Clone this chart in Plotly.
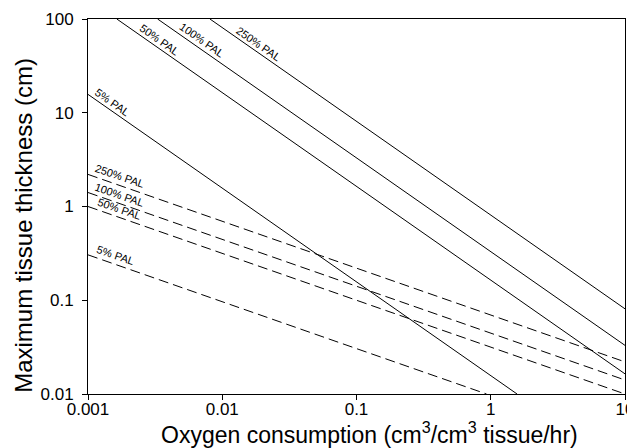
import math
import plotly.graph_objects as go

# ---- data (log-log straight lines, endpoints) ----
pal_labels = ["5% PAL", "50% PAL", "100% PAL", "250% PAL"]

# Solid lines (slope -1)
solid_x = [[0.001, 1.57], [0.00164, 10], [0.0033, 10], [0.0081, 10]]
solid_y = [[15.7, 0.01], [100, 0.0164], [100, 0.033], [100, 0.081]]

# Dashed lines (slope -1/2)
dashed_x = [[0.001, 0.93], [0.001, 10], [0.001, 10], [0.001, 10]]
dashed_y = [[0.305, 0.01], [1.0, 0.01], [1.41, 0.0141], [2.2, 0.022]]

# label anchor x positions along each line
solid_label_x = [0.00146, 0.00332, 0.0068, 0.0181]
dashed_label_x = [0.00151, 0.00164, 0.00164, 0.00164]

x_tickvals = [0.001, 0.01, 0.1, 1, 10]
x_ticktext = ["0.001", "0.01", "0.1", "1", "10"]
y_tickvals = [0.01, 0.1, 1, 10, 100]
y_ticktext = ["0.01", "0.1", "1", "10", "100"]

x_title = "Oxygen consumption (cm<sup>3</sup>/cm<sup>3</sup> tissue/hr)"
y_title = "Maximum tissue thickness (cm)"

FONT = "Arial, Liberation Sans, sans-serif"

fig = go.Figure()
for xs, ys in zip(solid_x, solid_y):
    fig.add_trace(go.Scatter(x=xs, y=ys, mode="lines",
                             line=dict(color="black", width=1), showlegend=False))
for xs, ys in zip(dashed_x, dashed_y):
    fig.add_trace(go.Scatter(x=xs, y=ys, mode="lines",
                             line=dict(color="black", width=1, dash="10px,5px"),
                             showlegend=False))


def interp_log(xs, ys, x):
    lx0, lx1 = math.log10(xs[0]), math.log10(xs[1])
    ly0, ly1 = math.log10(ys[0]), math.log10(ys[1])
    t = (math.log10(x) - lx0) / (lx1 - lx0)
    return ly0 + t * (ly1 - ly0)


annotations = []
for lab, xs, ys, lx in zip(pal_labels, solid_x, solid_y, solid_label_x):
    annotations.append(dict(x=math.log10(lx), y=interp_log(xs, ys, lx), xref="x", yref="y",
                            text=lab, showarrow=False, textangle=35, yshift=8, xshift=2,
                            font=dict(family=FONT, size=11, color="black")))
for lab, xs, ys, lx in zip(pal_labels, dashed_x, dashed_y, dashed_label_x):
    annotations.append(dict(x=math.log10(lx), y=interp_log(xs, ys, lx), xref="x", yref="y",
                            text=lab, showarrow=False, textangle=19, yshift=8, xshift=3,
                            font=dict(family=FONT, size=11, color="black")))

# axis titles placed as annotations (the reference titles are offset from the plot centre)
annotations.append(dict(text=x_title, xref="paper", yref="paper", x=0.525, y=-0.104,
                        xanchor="center", yanchor="middle", showarrow=False,
                        font=dict(family=FONT, size=23, color="black")))
annotations.append(dict(text=y_title, xref="paper", yref="paper", x=-0.12, y=0.45,
                        xanchor="center", yanchor="middle", showarrow=False, textangle=-90,
                        font=dict(family=FONT, size=24, color="black")))

# The page body has an 8px margin, so the figure is sized to fill the rest of the window.
fig.update_layout(
    width=627, height=440,
    margin=dict(l=80, r=10, t=11, b=54),
    paper_bgcolor="white", plot_bgcolor="white",
    font=dict(family=FONT, color="black"),
    annotations=annotations,
    xaxis=dict(type="log", range=[-3, 1], tickvals=x_tickvals, ticktext=x_ticktext,
               showgrid=False, zeroline=False, showline=True, linecolor="black", linewidth=1,
               mirror=True, ticks="outside", ticklen=5, tickcolor="black",
               ticklabelstandoff=-5, automargin=False, ticklabeloverflow="allow",
               tickfont=dict(size=17, family=FONT)),
    yaxis=dict(type="log", range=[-2, 2], tickvals=y_tickvals, ticktext=y_ticktext,
               showgrid=False, zeroline=False, showline=True, linecolor="black", linewidth=1,
               mirror=True, ticks="outside", ticklen=5, tickcolor="black",
               ticklabelstandoff=5, automargin=False, ticklabeloverflow="allow",
               tickfont=dict(size=17, family=FONT)),
)

fig.write_html("out.html")
